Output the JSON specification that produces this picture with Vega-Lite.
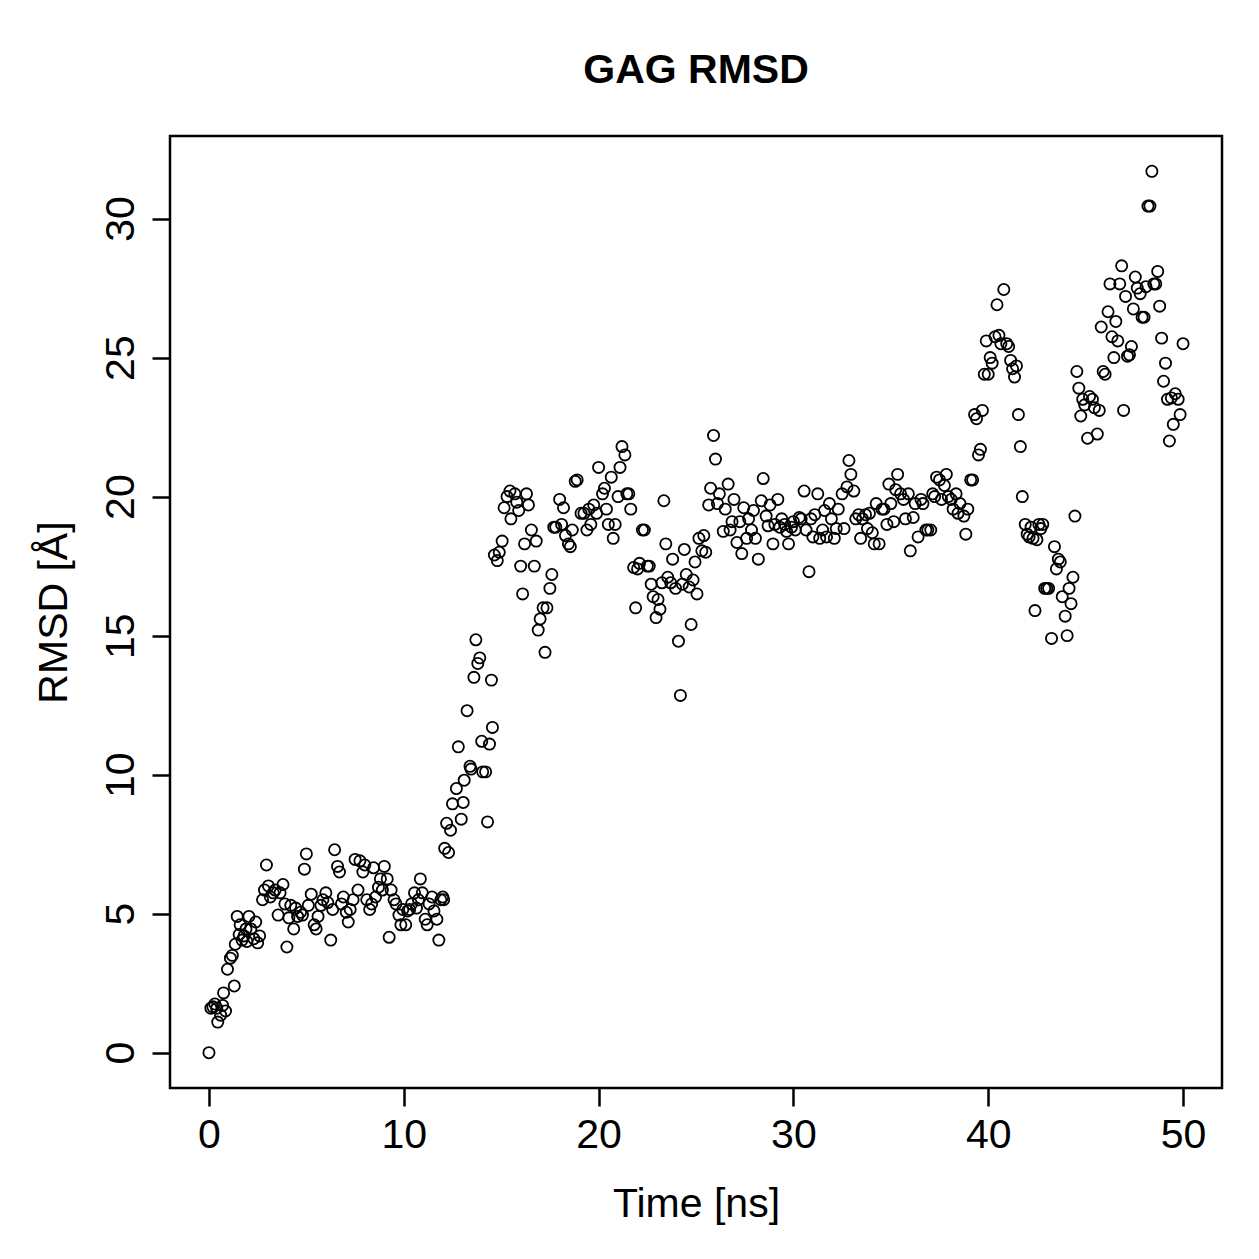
{
  "$schema": "https://vega.github.io/schema/vega-lite/v6.json",
  "width": 1052,
  "height": 952,
  "autosize": {"type": "none"},
  "padding": {"left": 170, "top": 136, "right": 37, "bottom": 171},
  "background": "white",
  "title": {"text": "GAG RMSD", "font": "Liberation Sans", "fontSize": 41, "fontWeight": "bold", "color": "black", "anchor": "middle", "baseline": "alphabetic", "offset": 12},
  "config": {
    "view": {"stroke": "black", "strokeWidth": 2.5},
    "axis": {"grid": false, "domain": false, "tickColor": "black", "tickWidth": 2.5, "tickSize": 18,
      "labelFont": "Liberation Sans", "labelFontSize": 41, "labelColor": "black",
      "titleFont": "Liberation Sans", "titleFontSize": 41, "titleFontWeight": "normal", "titleColor": "black"}
  },
  "data": {"values": [
{"t":0,"r":0},{"t":0.1,"r":1.6},{"t":0.2,"r":1.65},{"t":0.3,"r":1.75},{"t":0.4,"r":1.6},{"t":0.45,"r":1.1},{"t":0.6,"r":1.35},{"t":0.7,"r":1.7},{"t":0.75,"r":2.15},{"t":0.85,"r":1.5},
{"t":0.95,"r":3.0},{"t":1.1,"r":3.4},{"t":1.2,"r":3.5},{"t":1.3,"r":2.4},{"t":1.35,"r":3.9},{"t":1.45,"r":4.9},{"t":1.55,"r":4.25},{"t":1.6,"r":4.6},{"t":1.7,"r":4.05},{"t":1.8,"r":4.2},
{"t":1.9,"r":4.45},{"t":1.95,"r":4.0},{"t":2.05,"r":4.9},{"t":2.15,"r":4.45},{"t":2.3,"r":4.1},{"t":2.4,"r":4.7},{"t":2.5,"r":3.95},{"t":2.6,"r":4.2},{"t":2.75,"r":5.5},{"t":2.85,"r":5.85},
{"t":2.95,"r":6.75},{"t":3.05,"r":6.0},{"t":3.15,"r":5.6},{"t":3.3,"r":5.75},{"t":3.4,"r":5.85},{"t":3.55,"r":4.95},{"t":3.65,"r":5.75},{"t":3.8,"r":6.05},{"t":3.9,"r":5.35},{"t":4.0,"r":3.8},
{"t":4.1,"r":4.85},{"t":4.2,"r":5.3},{"t":4.35,"r":4.45},{"t":4.45,"r":5.2},{"t":4.55,"r":4.9},{"t":4.7,"r":5.05},{"t":4.8,"r":4.95},{"t":4.9,"r":6.6},{"t":5.0,"r":7.15},{"t":5.1,"r":5.3},
{"t":5.25,"r":5.7},{"t":5.4,"r":4.6},{"t":5.5,"r":4.45},{"t":5.6,"r":4.9},{"t":5.75,"r":5.3},{"t":5.85,"r":5.5},{"t":6.0,"r":5.75},{"t":6.1,"r":5.4},{"t":6.25,"r":4.05},{"t":6.35,"r":5.15},
{"t":6.45,"r":7.3},{"t":6.6,"r":6.7},{"t":6.7,"r":6.5},{"t":6.8,"r":5.35},{"t":6.9,"r":5.6},{"t":7.05,"r":5.05},{"t":7.15,"r":4.7},{"t":7.25,"r":5.15},{"t":7.4,"r":5.5},{"t":7.5,"r":6.95},
{"t":7.65,"r":5.85},{"t":7.75,"r":6.9},{"t":7.9,"r":6.5},{"t":8.0,"r":6.75},{"t":8.1,"r":5.5},{"t":8.25,"r":5.15},{"t":8.35,"r":5.35},{"t":8.45,"r":6.65},{"t":8.55,"r":5.6},{"t":8.7,"r":5.95},
{"t":8.8,"r":6.25},{"t":8.9,"r":5.85},{"t":9.0,"r":6.7},{"t":9.15,"r":6.25},{"t":9.25,"r":4.15},{"t":9.35,"r":5.85},{"t":9.5,"r":5.5},{"t":9.6,"r":5.35},{"t":9.75,"r":4.95},{"t":9.85,"r":4.6},
{"t":9.95,"r":5.15},{"t":10.1,"r":4.6},{"t":10.2,"r":5.1},{"t":10.3,"r":5.15},{"t":10.4,"r":5.35},{"t":10.55,"r":5.75},{"t":10.65,"r":5.2},{"t":10.75,"r":5.5},{"t":10.85,"r":6.25},{"t":10.95,"r":5.75},
{"t":11.1,"r":4.8},{"t":11.2,"r":4.6},{"t":11.3,"r":5.35},{"t":11.45,"r":5.6},{"t":11.55,"r":5.1},{"t":11.7,"r":4.8},{"t":11.8,"r":4.05},{"t":11.9,"r":5.5},{"t":12.0,"r":5.6},{"t":12.05,"r":5.5},
{"t":12.1,"r":7.35},{"t":12.2,"r":8.25},{"t":12.3,"r":7.2},{"t":12.4,"r":8.0},{"t":12.5,"r":8.95},{"t":12.7,"r":9.5},{"t":12.8,"r":11.0},{"t":12.95,"r":8.4},{"t":13.05,"r":9.0},{"t":13.1,"r":9.8},
{"t":13.25,"r":12.3},{"t":13.4,"r":10.3},{"t":13.45,"r":10.2},{"t":13.6,"r":13.5},{"t":13.7,"r":14.85},{"t":13.8,"r":14.0},{"t":13.9,"r":14.2},{"t":14.0,"r":11.2},{"t":14.05,"r":10.1},{"t":14.2,"r":10.1},
{"t":14.3,"r":8.3},{"t":14.4,"r":11.1},{"t":14.5,"r":13.4},{"t":14.55,"r":11.7},{"t":14.65,"r":17.9},{"t":14.8,"r":17.7},{"t":14.9,"r":18.0},{"t":15.05,"r":18.4},{"t":15.15,"r":19.6},{"t":15.3,"r":20.0},
{"t":15.45,"r":20.2},{"t":15.5,"r":19.2},{"t":15.7,"r":20.1},{"t":15.8,"r":19.8},{"t":15.9,"r":19.5},{"t":16.0,"r":17.5},{"t":16.1,"r":16.5},{"t":16.2,"r":18.3},{"t":16.3,"r":20.1},{"t":16.4,"r":19.7},
{"t":16.55,"r":18.8},{"t":16.7,"r":17.5},{"t":16.8,"r":18.4},{"t":16.9,"r":15.2},{"t":17.0,"r":15.6},{"t":17.15,"r":16.0},{"t":17.25,"r":14.4},{"t":17.35,"r":16.0},{"t":17.5,"r":16.7},{"t":17.6,"r":17.2},
{"t":17.7,"r":18.9},{"t":17.8,"r":18.9},{"t":18.0,"r":19.9},{"t":18.1,"r":19.0},{"t":18.2,"r":19.6},{"t":18.3,"r":18.6},{"t":18.45,"r":18.3},{"t":18.55,"r":18.2},{"t":18.65,"r":18.8},{"t":18.8,"r":20.55},
{"t":18.9,"r":20.6},{"t":19.1,"r":19.4},{"t":19.25,"r":19.4},{"t":19.4,"r":18.8},{"t":19.5,"r":19.55},{"t":19.6,"r":19.0},{"t":19.75,"r":19.7},{"t":19.9,"r":19.4},{"t":20.0,"r":21.05},{"t":20.2,"r":20.1},
{"t":20.3,"r":20.3},{"t":20.4,"r":19.55},{"t":20.5,"r":19.0},{"t":20.65,"r":20.7},{"t":20.75,"r":18.5},{"t":20.85,"r":19.0},{"t":21.0,"r":20.0},{"t":21.1,"r":21.05},{"t":21.2,"r":21.8},{"t":21.35,"r":21.5},
{"t":21.45,"r":20.1},{"t":21.55,"r":20.1},{"t":21.65,"r":19.55},{"t":21.8,"r":17.45},{"t":21.9,"r":16.0},{"t":22.0,"r":17.4},{"t":22.1,"r":17.6},{"t":22.25,"r":18.8},{"t":22.35,"r":18.8},{"t":22.5,"r":17.5},
{"t":22.6,"r":17.5},{"t":22.7,"r":16.85},{"t":22.8,"r":16.4},{"t":22.95,"r":15.65},{"t":23.05,"r":16.3},{"t":23.15,"r":15.95},{"t":23.25,"r":16.9},{"t":23.35,"r":19.85},{"t":23.45,"r":18.3},{"t":23.55,"r":17.1},
{"t":23.7,"r":16.9},{"t":23.8,"r":17.75},{"t":23.95,"r":16.7},{"t":24.1,"r":14.8},{"t":24.2,"r":12.85},{"t":24.3,"r":16.85},{"t":24.4,"r":18.1},{"t":24.5,"r":17.2},{"t":24.65,"r":16.75},{"t":24.75,"r":15.4},
{"t":24.85,"r":17.0},{"t":24.95,"r":17.65},{"t":25.05,"r":16.5},{"t":25.15,"r":18.5},{"t":25.3,"r":18.05},{"t":25.4,"r":18.6},{"t":25.5,"r":18.0},{"t":25.65,"r":19.7},{"t":25.75,"r":20.3},{"t":25.9,"r":22.2},
{"t":26.0,"r":21.35},{"t":26.1,"r":19.75},{"t":26.2,"r":20.1},{"t":26.4,"r":18.75},{"t":26.5,"r":19.55},{"t":26.65,"r":20.45},{"t":26.75,"r":18.8},{"t":26.85,"r":19.1},{"t":26.95,"r":19.9},{"t":27.1,"r":18.35},
{"t":27.25,"r":19.1},{"t":27.35,"r":17.95},{"t":27.45,"r":19.6},{"t":27.6,"r":18.5},{"t":27.7,"r":19.2},{"t":27.85,"r":18.8},{"t":27.95,"r":19.5},{"t":28.05,"r":18.5},{"t":28.2,"r":17.75},{"t":28.35,"r":19.85},
{"t":28.45,"r":20.65},{"t":28.6,"r":19.3},{"t":28.7,"r":18.95},{"t":28.8,"r":19.7},{"t":28.95,"r":18.3},{"t":29.05,"r":19.0},{"t":29.2,"r":19.9},{"t":29.3,"r":18.9},{"t":29.4,"r":19.2},{"t":29.55,"r":19.0},
{"t":29.65,"r":18.75},{"t":29.75,"r":18.3},{"t":29.9,"r":18.9},{"t":30.0,"r":19.1},{"t":30.1,"r":18.8},{"t":30.3,"r":19.25},{"t":30.4,"r":19.2},{"t":30.55,"r":20.2},{"t":30.65,"r":18.8},{"t":30.8,"r":17.3},
{"t":30.9,"r":19.2},{"t":31.0,"r":18.55},{"t":31.1,"r":19.35},{"t":31.25,"r":20.1},{"t":31.35,"r":18.5},{"t":31.5,"r":18.8},{"t":31.6,"r":19.5},{"t":31.7,"r":18.55},{"t":31.85,"r":19.75},{"t":31.95,"r":19.2},
{"t":32.1,"r":18.5},{"t":32.2,"r":18.85},{"t":32.3,"r":19.55},{"t":32.5,"r":20.1},{"t":32.6,"r":18.85},{"t":32.75,"r":20.35},{"t":32.85,"r":21.3},{"t":32.95,"r":20.8},{"t":33.1,"r":20.2},{"t":33.2,"r":19.2},
{"t":33.35,"r":19.35},{"t":33.45,"r":18.5},{"t":33.55,"r":19.2},{"t":33.7,"r":19.35},{"t":33.8,"r":18.85},{"t":33.9,"r":19.4},{"t":34.05,"r":18.7},{"t":34.15,"r":18.3},{"t":34.25,"r":19.75},{"t":34.4,"r":18.3},
{"t":34.55,"r":19.55},{"t":34.65,"r":19.55},{"t":34.8,"r":19.0},{"t":34.9,"r":20.45},{"t":35.0,"r":19.75},{"t":35.15,"r":19.1},{"t":35.25,"r":20.25},{"t":35.35,"r":20.8},{"t":35.5,"r":20.1},{"t":35.65,"r":19.9},
{"t":35.75,"r":19.2},{"t":35.9,"r":20.1},{"t":36.0,"r":18.05},{"t":36.15,"r":19.25},{"t":36.25,"r":19.75},{"t":36.4,"r":18.55},{"t":36.55,"r":19.9},{"t":36.65,"r":19.75},{"t":36.8,"r":18.8},{"t":36.9,"r":18.8},
{"t":37.05,"r":18.8},{"t":37.15,"r":20.1},{"t":37.25,"r":20.0},{"t":37.35,"r":20.7},{"t":37.5,"r":20.6},{"t":37.6,"r":19.9},{"t":37.75,"r":20.4},{"t":37.85,"r":20.8},{"t":37.95,"r":20.0},{"t":38.1,"r":19.9},
{"t":38.2,"r":19.55},{"t":38.35,"r":20.1},{"t":38.45,"r":19.4},{"t":38.55,"r":19.75},{"t":38.75,"r":19.3},{"t":38.85,"r":18.65},{"t":38.95,"r":19.55},{"t":39.1,"r":20.6},{"t":39.2,"r":20.6},{"t":39.3,"r":22.95},
{"t":39.4,"r":22.8},{"t":39.5,"r":21.5},{"t":39.6,"r":21.7},{"t":39.7,"r":23.1},{"t":39.8,"r":24.4},{"t":39.9,"r":25.6},{"t":40.0,"r":24.4},{"t":40.1,"r":25.0},{"t":40.2,"r":24.8},{"t":40.35,"r":25.75},
{"t":40.45,"r":26.9},{"t":40.55,"r":25.8},{"t":40.65,"r":25.5},{"t":40.8,"r":27.45},{"t":40.95,"r":25.5},{"t":41.05,"r":25.4},{"t":41.15,"r":24.9},{"t":41.25,"r":24.6},{"t":41.35,"r":24.3},{"t":41.45,"r":24.7},
{"t":41.55,"r":22.95},{"t":41.65,"r":21.8},{"t":41.75,"r":20.0},{"t":41.9,"r":19.0},{"t":42.0,"r":18.65},{"t":42.1,"r":18.55},{"t":42.2,"r":18.9},{"t":42.3,"r":18.5},{"t":42.4,"r":15.9},{"t":42.5,"r":18.45},
{"t":42.6,"r":19.0},{"t":42.7,"r":18.85},{"t":42.8,"r":19.0},{"t":42.9,"r":16.7},{"t":43.0,"r":16.7},{"t":43.1,"r":16.7},{"t":43.25,"r":14.9},{"t":43.4,"r":18.2},{"t":43.5,"r":17.4},{"t":43.6,"r":17.75},
{"t":43.7,"r":17.65},{"t":43.8,"r":16.4},{"t":43.95,"r":15.7},{"t":44.05,"r":15.0},{"t":44.15,"r":16.7},{"t":44.25,"r":16.15},{"t":44.35,"r":17.1},{"t":44.45,"r":19.3},{"t":44.55,"r":24.5},{"t":44.65,"r":23.9},
{"t":44.75,"r":22.9},{"t":44.85,"r":23.5},{"t":44.95,"r":23.3},{"t":45.1,"r":22.1},{"t":45.2,"r":23.6},{"t":45.35,"r":23.5},{"t":45.45,"r":23.2},{"t":45.6,"r":22.25},{"t":45.7,"r":23.1},{"t":45.8,"r":26.1},
{"t":45.9,"r":24.5},{"t":46.0,"r":24.4},{"t":46.15,"r":26.65},{"t":46.25,"r":27.65},{"t":46.35,"r":25.75},{"t":46.45,"r":25.0},{"t":46.55,"r":26.3},{"t":46.65,"r":25.6},{"t":46.75,"r":27.65},{"t":46.85,"r":28.3},
{"t":46.95,"r":23.1},{"t":47.05,"r":27.2},{"t":47.15,"r":25.05},{"t":47.25,"r":25.1},{"t":47.35,"r":25.4},{"t":47.45,"r":26.75},{"t":47.55,"r":27.9},{"t":47.65,"r":27.5},{"t":47.8,"r":27.3},{"t":47.9,"r":26.45},
{"t":48.0,"r":26.45},{"t":48.1,"r":27.55},{"t":48.2,"r":30.45},{"t":48.3,"r":30.45},{"t":48.4,"r":31.7},{"t":48.5,"r":27.65},{"t":48.6,"r":27.65},{"t":48.7,"r":28.1},{"t":48.8,"r":26.85},{"t":48.9,"r":25.7},
{"t":49.0,"r":24.15},{"t":49.1,"r":24.8},{"t":49.2,"r":23.5},{"t":49.3,"r":22.0},{"t":49.4,"r":23.55},{"t":49.5,"r":22.6},{"t":49.6,"r":23.7},{"t":49.75,"r":23.5},{"t":49.85,"r":22.95},{"t":50.0,"r":25.5}
  ]},
  "mark": {"type": "point", "shape": "circle", "filled": false, "stroke": "black", "strokeWidth": 1.8, "size": 125, "opacity": 1},
  "encoding": {
    "x": {"field": "t", "type": "quantitative", "scale": {"domain": [-2, 52], "nice": false, "zero": false},
      "axis": {"values": [0, 10, 20, 30, 40, 50], "title": "Time [ns]", "labelBaseline": "alphabetic", "labelPadding": 41, "titleBaseline": "alphabetic", "titleY": 128, "titleX": 526}},
    "y": {"field": "r", "type": "quantitative", "scale": {"domain": [-1.27, 32.97], "nice": false, "zero": false},
      "axis": {"values": [0, 5, 10, 15, 20, 25, 30], "title": "RMSD [Å]", "labelAngle": -90, "labelAlign": "center", "labelBaseline": "alphabetic", "labelPadding": 19, "titleAngle": -90, "titleBaseline": "alphabetic", "titleX": -104, "titleY": 476, "titleAlign": "center"}}
  }
}
